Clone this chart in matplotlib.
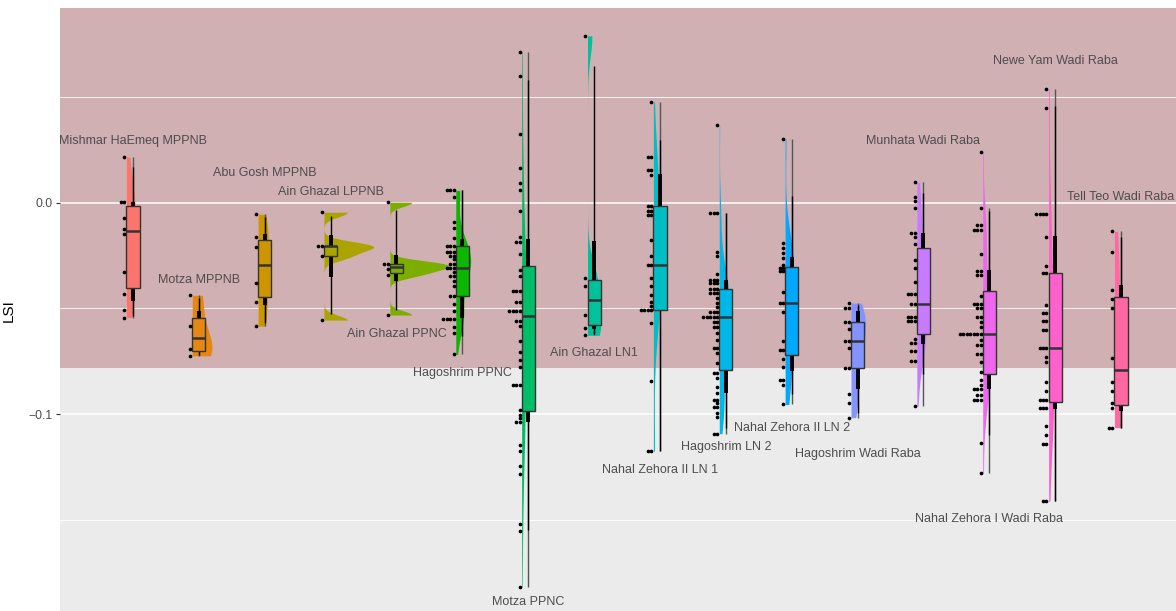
import numpy as np
import matplotlib.pyplot as plt
from matplotlib.patches import Rectangle

plt.rcParams['font.family'] = ['Liberation Sans', 'DejaVu Sans']

sites = [
    "Mishmar HaEmeq MPPNB", "Motza MPPNB", "Abu Gosh MPPNB", "Ain Ghazal LPPNB",
    "Ain Ghazal PPNC", "Hagoshrim PPNC", "Motza PPNC", "Ain Ghazal LN1",
    "Nahal Zehora II LN 1", "Hagoshrim LN 2", "Nahal Zehora II LN 2",
    "Hagoshrim Wadi Raba", "Munhata Wadi Raba", "Nahal Zehora I Wadi Raba",
    "Newe Yam Wadi Raba", "Tell Teo Wadi Raba",
]

# where each site name sits on the LSI axis
label_lsi = [0.0292, -0.0365, 0.0140, 0.0051, -0.0621, -0.0805, -0.1888, -0.0711,
             -0.1264, -0.1155, -0.1065, -0.1188, 0.0292, -0.1496, 0.0670, 0.0027]

# LSI values per site
mishmar_mppnb = [0.0215, 0.0003, 0.0003, -0.0071, -0.0122, -0.0150, -0.0329, -0.0430,
                 -0.0507, -0.0543]
motza_mppnb = [-0.0438, -0.0584, -0.0693, -0.0724]
abu_gosh_mppnb = [-0.0055, -0.0163, -0.0209, -0.0382, -0.0468, -0.0584]
ain_ghazal_lppnb = [-0.0045, -0.0206, -0.0206, -0.0253, -0.0555]
ain_ghazal_ppnc = [0.0002, -0.0291, -0.0291, -0.0314, -0.0341, -0.0531]
hagoshrim_ppnc = ([0.0058] * 3 + [0.0025, -0.0093, -0.0120, -0.0167] + [-0.0207] * 3
                  + [-0.0235] * 3 + [-0.0251] * 2 + [-0.0267] + [-0.0289] * 2
                  + [-0.0310] * 3 + [-0.0330] + [-0.0346] * 2 + [-0.0368, -0.0393]
                  + [-0.0439] * 2 + [-0.0479, -0.0512] + [-0.0551] * 4
                  + [-0.0586, -0.0618, -0.0717])
motza_ppnc = ([0.0711, 0.0601, 0.0324, 0.0164, 0.0091, 0.0061, -0.0040, -0.0164]
              + [-0.0187] * 2 + [-0.0242, -0.0319, -0.0345] + [-0.0418] * 3
              + [-0.0471] * 2 + [-0.0511] * 4 + [-0.0557] * 2
              + [-0.0582, -0.0654, -0.0704, -0.0745, -0.0777] + [-0.0862] * 3
              + [-0.0981, -0.1003, -0.1019] + [-0.1039] * 2
              + [-0.1147, -0.1176, -0.1244, -0.1285, -0.1521, -0.1552, -0.1816])
ain_ghazal_ln1 = [0.0789, -0.0355, -0.0392, -0.0532, -0.0593, -0.0627]
nahal_zehora2_ln1 = ([0.0477] + [0.0217] * 2 + [0.0156] * 2 + [0.0131] + [-0.0014] * 2
                     + [-0.0041] * 2 + [-0.0060] * 2 + [-0.0175, -0.0250] + [-0.0294] * 2
                     + [-0.0357, -0.0395, -0.0436, -0.0471, -0.0487] + [-0.0507] * 4
                     + [-0.0567, -0.0842] + [-0.1175] * 2)
hagoshrim_ln2 = ([0.0366] + [-0.0049] * 3 + [-0.0231, -0.0250, -0.0336] + [-0.0365] * 3
                 + [-0.0381] * 3 + [-0.0409] * 3 + [-0.0425] * 3
                 + [-0.0452, -0.0472, -0.0494] + [-0.0517] * 3 + [-0.0539] * 5
                 + [-0.0562] * 2 + [-0.0586] * 2 + [-0.0618, -0.0649] + [-0.0689] * 2
                 + [-0.0712, -0.0757] + [-0.0804] * 2 + [-0.0831, -0.0871, -0.0902]
                 + [-0.0934] * 2 + [-0.0949] + [-0.0968] * 2 + [-0.0994, -0.1013]
                 + [-0.1092] * 2)
nahal_zehora2_ln2 = [0.0302, -0.0191, -0.0215, -0.0239, -0.0262, -0.0294, -0.0310,
                     -0.0310, -0.0325, -0.0325, -0.0423, -0.0475, -0.0475, -0.0518,
                     -0.0653, -0.0697, -0.0697, -0.0739, -0.0779, -0.0839, -0.0839,
                     -0.0863, -0.0954]
hagoshrim_wadi_raba = [-0.0475, -0.0499, -0.0499, -0.0562, -0.0562, -0.0599, -0.0654,
                       -0.0654, -0.0689, -0.0781, -0.0781, -0.0905, -0.0949, -0.1016]
munhata_wadi_raba = ([0.0096, 0.0025, 0.0006, -0.0025] + [-0.0144] * 2
                     + [-0.0160, -0.0196, -0.0270, -0.0310, -0.0373] + [-0.0433] * 3
                     + [-0.0480] * 2 + [-0.0539] * 3 + [-0.0559] * 3 + [-0.0643]
                     + [-0.0665] * 2 + [-0.0701] * 2 + [-0.0749] * 2 + [-0.0962])
nahal_zehora1_wadi_raba = ([0.0240, -0.0027] + [-0.0107] * 2 + [-0.0128] * 3 + [-0.0243]
                           + [-0.0321] * 2 + [-0.0341] * 2 + [-0.0441] + [-0.0480] * 3
                           + [-0.0499] * 2 + [-0.0539] * 2 + [-0.0562, -0.0586]
                           + [-0.0622] * 7 + [-0.0649] + [-0.0673] * 2 + [-0.0716] * 2
                           + [-0.0752, -0.0799, -0.0839, -0.0863] + [-0.0883] * 3
                           + [-0.0907] * 2 + [-0.0931] * 3 + [-0.1136, -0.1278])
newe_yam_wadi_raba = ([0.0539, 0.0447] + [-0.0052] * 4 + [-0.0163, -0.0299]
                      + [-0.0333] * 2 + [-0.0483] + [-0.0523] * 2 + [-0.0561] * 2
                      + [-0.0602] * 2 + [-0.0686] * 3 + [-0.0728, -0.0752, -0.0848, -0.0889]
                      + [-0.0934] * 3 + [-0.0973] * 3 + [-0.1057, -0.1100]
                      + [-0.1139] * 2 + [-0.1411] * 2)
tell_teo_wadi_raba = [-0.0136, -0.0235, -0.0412, -0.0455, -0.0496, -0.0736, -0.0850,
                      -0.0889, -0.0949, -0.0973, -0.1063, -0.1063]

lsi = [mishmar_mppnb, motza_mppnb, abu_gosh_mppnb, ain_ghazal_lppnb, ain_ghazal_ppnc,
       hagoshrim_ppnc, motza_ppnc, ain_ghazal_ln1, nahal_zehora2_ln1, hagoshrim_ln2,
       nahal_zehora2_ln2, hagoshrim_wadi_raba, munhata_wadi_raba,
       nahal_zehora1_wadi_raba, newe_yam_wadi_raba, tell_teo_wadi_raba]

colours = ["#F8766D", "#E68613", "#CD9600", "#ABA300", "#7CAE00", "#0CB702",
           "#00BE67", "#00C19A", "#00BFC4", "#00B8E7", "#00A9FF", "#8494FF",
           "#C77CFF", "#ED68ED", "#FF61CC", "#FF68A1"]


def bw_nrd0(x):
    hi = np.std(x, ddof=1)
    q75, q25 = np.percentile(x, [75, 25])
    lo = min(hi, (q75 - q25) / 1.34)
    if lo == 0:
        lo = hi
    return 0.9 * lo * len(x) ** -0.2


def density(x, n=512):
    bw = bw_nrd0(x)
    grid = np.linspace(x.min(), x.max(), n)
    z = (grid[:, None] - x[None, :]) / bw
    dens = np.exp(-0.5 * z ** 2).sum(axis=1) / (len(x) * bw * np.sqrt(2 * np.pi))
    return grid, dens


def main():
    fig = plt.figure(figsize=(11.76, 6.11), dpi=100)
    ax = fig.add_axes([60 / 1176, 0, 1116 / 1176, 603 / 611])
    ax.set_facecolor('#EBEBEB')
    ax.axhspan(-0.078, 0.2, color='#D0B0B2', lw=0, zorder=0.2)
    for y in [0.05, -0.05, -0.15]:
        ax.axhline(y, color='white', lw=0.6, zorder=0.4)
    for y in [0.0, -0.1]:
        ax.axhline(y, color='white', lw=1.1, zorder=0.4)

    data = [np.array(v) for v in lsi]
    curves = [density(v) for v in data]
    top = max(d.max() for _, d in curves)

    for i, v in enumerate(data):
        x = i + 1
        c = colours[i]

        # half violin to the right
        grid, dens = curves[i]
        ax.fill_betweenx(grid, x - 0.1, x - 0.1 + dens / top * 0.9, color=c, lw=0, zorder=2)

        # boxplot whiskers
        q1, med, q3 = np.percentile(v, [25, 50, 75])
        iqr = q3 - q1
        lo = v[v >= q1 - 1.5 * iqr].min()
        hi = v[v <= q3 + 1.5 * iqr].max()
        ax.plot([x, x], [lo, hi], color='#555555', lw=1.0, zorder=3, solid_capstyle='butt')

        # 95% and 66% intervals
        a, b = np.percentile(v, [2.5, 97.5])
        ax.plot([x, x], [a, b], color='black', lw=1.0, zorder=4, solid_capstyle='butt')
        a, b = np.percentile(v, [17, 83])
        ax.plot([x, x], [a, b], color='black', lw=2.8, zorder=4, solid_capstyle='butt')

        # box
        ax.add_patch(Rectangle((x - 0.1, q1), 0.2, q3 - q1, facecolor=c,
                               edgecolor='#333333', lw=1.0, zorder=5))
        ax.plot([x - 0.1, x + 0.1], [med, med], color='#333333', lw=1.8, zorder=6,
                solid_capstyle='butt')

        # stacked dots to the left
        vals, counts = np.unique(v, return_counts=True)
        px, py = [], []
        for val, cnt in zip(vals, counts):
            for k in range(cnt):
                px.append(x - 0.132 - k * 0.052)
                py.append(val)
        ax.scatter(px, py, s=7, color='black', lw=0, zorder=7)

        ax.text(x, label_lsi[i], sites[i], ha='center', va='center', fontsize=9,
                color='#4D4D4D', zorder=8)

    ax.set_xlim(-0.108, 16.834)
    ax.set_ylim(-0.19305, 0.09206)
    ax.set_xticks([])
    ax.set_yticks([-0.1, 0.0])
    ax.set_yticklabels(['\u22120.1', '0.0'])
    ax.tick_params(axis='y', length=2.75, width=0.8, color='#333333',
                   labelcolor='#4D4D4D', labelsize=8.8, pad=2.5)
    for s in ax.spines.values():
        s.set_visible(False)
    ax.set_ylabel('LSI', fontsize=11, color='black')
    ax.yaxis.set_label_coords(-0.0394, 0.499)

    fig.savefig('out.png', dpi=100)


if __name__ == '__main__':
    main()
